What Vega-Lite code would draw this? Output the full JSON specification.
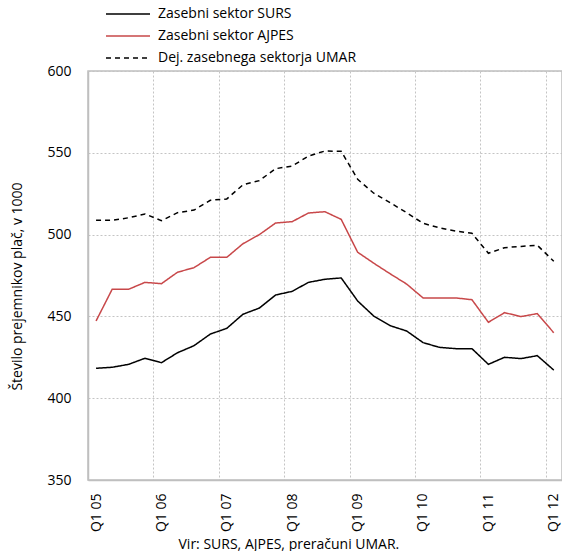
{
  "$schema": "https://vega.github.io/schema/vega-lite/v6.json",
  "width": 474,
  "height": 409,
  "autosize": {"type": "none"},
  "padding": {"left": 88, "top": 71, "right": 0, "bottom": 71},
  "background": "white",
  "config": {
    "font": "Open Sans",
    "view": {"stroke": "#bfbfbf", "strokeWidth": 1.5},
    "axis": {"labelFont": "Open Sans", "titleFont": "Open Sans", "labelColor": "black", "titleColor": "black", "titleFontWeight": "normal"}
  },
  "data": {
    "values": [
      {"date": "2005-02-15", "series": "Zasebni sektor SURS", "value": 418.3},
      {"date": "2005-05-16", "series": "Zasebni sektor SURS", "value": 418.9},
      {"date": "2005-08-16", "series": "Zasebni sektor SURS", "value": 420.7},
      {"date": "2005-11-15", "series": "Zasebni sektor SURS", "value": 424.4},
      {"date": "2006-02-15", "series": "Zasebni sektor SURS", "value": 421.7},
      {"date": "2006-05-16", "series": "Zasebni sektor SURS", "value": 427.8},
      {"date": "2006-08-16", "series": "Zasebni sektor SURS", "value": 432.1},
      {"date": "2006-11-15", "series": "Zasebni sektor SURS", "value": 439.2},
      {"date": "2007-02-15", "series": "Zasebni sektor SURS", "value": 442.7},
      {"date": "2007-05-16", "series": "Zasebni sektor SURS", "value": 451.3},
      {"date": "2007-08-16", "series": "Zasebni sektor SURS", "value": 455.1},
      {"date": "2007-11-15", "series": "Zasebni sektor SURS", "value": 463.1},
      {"date": "2008-02-15", "series": "Zasebni sektor SURS", "value": 465.3},
      {"date": "2008-05-16", "series": "Zasebni sektor SURS", "value": 470.8},
      {"date": "2008-08-16", "series": "Zasebni sektor SURS", "value": 472.7},
      {"date": "2008-11-15", "series": "Zasebni sektor SURS", "value": 473.5},
      {"date": "2009-02-15", "series": "Zasebni sektor SURS", "value": 459.4},
      {"date": "2009-05-16", "series": "Zasebni sektor SURS", "value": 450.2},
      {"date": "2009-08-16", "series": "Zasebni sektor SURS", "value": 444.3},
      {"date": "2009-11-15", "series": "Zasebni sektor SURS", "value": 441.1},
      {"date": "2010-02-15", "series": "Zasebni sektor SURS", "value": 434.0},
      {"date": "2010-05-16", "series": "Zasebni sektor SURS", "value": 431.1},
      {"date": "2010-08-16", "series": "Zasebni sektor SURS", "value": 430.3},
      {"date": "2010-11-15", "series": "Zasebni sektor SURS", "value": 430.3},
      {"date": "2011-02-15", "series": "Zasebni sektor SURS", "value": 420.7},
      {"date": "2011-05-16", "series": "Zasebni sektor SURS", "value": 425.0},
      {"date": "2011-08-16", "series": "Zasebni sektor SURS", "value": 424.2},
      {"date": "2011-11-15", "series": "Zasebni sektor SURS", "value": 426.0},
      {"date": "2012-02-15", "series": "Zasebni sektor SURS", "value": 417.2},
      {"date": "2005-02-15", "series": "Zasebni sektor AJPES", "value": 447.2},
      {"date": "2005-05-16", "series": "Zasebni sektor AJPES", "value": 466.6},
      {"date": "2005-08-16", "series": "Zasebni sektor AJPES", "value": 466.6},
      {"date": "2005-11-15", "series": "Zasebni sektor AJPES", "value": 470.8},
      {"date": "2006-02-15", "series": "Zasebni sektor AJPES", "value": 470.0},
      {"date": "2006-05-16", "series": "Zasebni sektor AJPES", "value": 477.0},
      {"date": "2006-08-16", "series": "Zasebni sektor AJPES", "value": 479.8},
      {"date": "2006-11-15", "series": "Zasebni sektor AJPES", "value": 486.1},
      {"date": "2007-02-15", "series": "Zasebni sektor AJPES", "value": 486.1},
      {"date": "2007-05-16", "series": "Zasebni sektor AJPES", "value": 494.4},
      {"date": "2007-08-16", "series": "Zasebni sektor AJPES", "value": 500.0},
      {"date": "2007-11-15", "series": "Zasebni sektor AJPES", "value": 507.1},
      {"date": "2008-02-15", "series": "Zasebni sektor AJPES", "value": 507.9},
      {"date": "2008-05-16", "series": "Zasebni sektor AJPES", "value": 513.2},
      {"date": "2008-08-16", "series": "Zasebni sektor AJPES", "value": 514.0},
      {"date": "2008-11-15", "series": "Zasebni sektor AJPES", "value": 509.3},
      {"date": "2009-02-15", "series": "Zasebni sektor AJPES", "value": 489.2},
      {"date": "2009-05-16", "series": "Zasebni sektor AJPES", "value": 482.5},
      {"date": "2009-08-16", "series": "Zasebni sektor AJPES", "value": 476.0},
      {"date": "2009-11-15", "series": "Zasebni sektor AJPES", "value": 469.8},
      {"date": "2010-02-15", "series": "Zasebni sektor AJPES", "value": 461.3},
      {"date": "2010-05-16", "series": "Zasebni sektor AJPES", "value": 461.3},
      {"date": "2010-08-16", "series": "Zasebni sektor AJPES", "value": 461.3},
      {"date": "2010-11-15", "series": "Zasebni sektor AJPES", "value": 460.2},
      {"date": "2011-02-15", "series": "Zasebni sektor AJPES", "value": 446.4},
      {"date": "2011-05-16", "series": "Zasebni sektor AJPES", "value": 452.3},
      {"date": "2011-08-16", "series": "Zasebni sektor AJPES", "value": 449.9},
      {"date": "2011-11-15", "series": "Zasebni sektor AJPES", "value": 451.7},
      {"date": "2012-02-15", "series": "Zasebni sektor AJPES", "value": 440.0},
      {"date": "2005-02-15", "series": "Dej. zasebnega sektorja UMAR", "value": 508.7},
      {"date": "2005-05-16", "series": "Dej. zasebnega sektorja UMAR", "value": 508.7},
      {"date": "2005-08-16", "series": "Dej. zasebnega sektorja UMAR", "value": 510.3},
      {"date": "2005-11-15", "series": "Dej. zasebnega sektorja UMAR", "value": 512.6},
      {"date": "2006-02-15", "series": "Dej. zasebnega sektorja UMAR", "value": 508.5},
      {"date": "2006-05-16", "series": "Dej. zasebnega sektorja UMAR", "value": 513.4},
      {"date": "2006-08-16", "series": "Dej. zasebnega sektorja UMAR", "value": 515.0},
      {"date": "2006-11-15", "series": "Dej. zasebnega sektorja UMAR", "value": 521.0},
      {"date": "2007-02-15", "series": "Dej. zasebnega sektorja UMAR", "value": 521.8},
      {"date": "2007-05-16", "series": "Dej. zasebnega sektorja UMAR", "value": 530.4},
      {"date": "2007-08-16", "series": "Dej. zasebnega sektorja UMAR", "value": 533.0},
      {"date": "2007-11-15", "series": "Dej. zasebnega sektorja UMAR", "value": 540.3},
      {"date": "2008-02-15", "series": "Dej. zasebnega sektorja UMAR", "value": 541.9},
      {"date": "2008-05-16", "series": "Dej. zasebnega sektorja UMAR", "value": 548.0},
      {"date": "2008-08-16", "series": "Dej. zasebnega sektorja UMAR", "value": 551.1},
      {"date": "2008-11-15", "series": "Dej. zasebnega sektorja UMAR", "value": 550.9},
      {"date": "2009-02-15", "series": "Dej. zasebnega sektorja UMAR", "value": 533.8},
      {"date": "2009-05-16", "series": "Dej. zasebnega sektorja UMAR", "value": 525.3},
      {"date": "2009-08-16", "series": "Dej. zasebnega sektorja UMAR", "value": 519.5},
      {"date": "2009-11-15", "series": "Dej. zasebnega sektorja UMAR", "value": 513.4},
      {"date": "2010-02-15", "series": "Dej. zasebnega sektorja UMAR", "value": 506.9},
      {"date": "2010-05-16", "series": "Dej. zasebnega sektorja UMAR", "value": 504.2},
      {"date": "2010-08-16", "series": "Dej. zasebnega sektorja UMAR", "value": 502.2},
      {"date": "2010-11-15", "series": "Dej. zasebnega sektorja UMAR", "value": 500.8},
      {"date": "2011-02-15", "series": "Dej. zasebnega sektorja UMAR", "value": 488.6},
      {"date": "2011-05-16", "series": "Dej. zasebnega sektorja UMAR", "value": 492.0},
      {"date": "2011-08-16", "series": "Dej. zasebnega sektorja UMAR", "value": 492.8},
      {"date": "2011-11-15", "series": "Dej. zasebnega sektorja UMAR", "value": 493.5},
      {"date": "2012-02-15", "series": "Dej. zasebnega sektorja UMAR", "value": 483.7}
    ]
  },
  "mark": {"type": "line", "strokeWidth": 1.5},
  "encoding": {
    "x": {
      "field": "date",
      "type": "temporal",
      "scale": {
        "type": "utc",
        "domain": [
          {"year": 2005, "month": 1, "date": 1, "utc": true},
          {"year": 2012, "month": 4, "date": 1, "utc": true}
        ]
      },
      "axis": {
        "values": [
          {"year": 2005, "month": 1, "date": 1, "utc": true},
          {"year": 2006, "month": 1, "date": 1, "utc": true},
          {"year": 2007, "month": 1, "date": 1, "utc": true},
          {"year": 2008, "month": 1, "date": 1, "utc": true},
          {"year": 2009, "month": 1, "date": 1, "utc": true},
          {"year": 2010, "month": 1, "date": 1, "utc": true},
          {"year": 2011, "month": 1, "date": 1, "utc": true},
          {"year": 2012, "month": 1, "date": 1, "utc": true}
        ],
        "labelExpr": "'Q1 ' + utcFormat(datum.value, '%y')",
        "labelAngle": 270,
        "labelAlign": "right",
        "labelBaseline": "middle",
        "labelPadding": 13,
        "labelOffset": 8,
        "labelFontSize": 14,
        "labelFlush": false,
        "labelOverlap": false,
        "ticks": false,
        "domainColor": "#bfbfbf",
        "domainWidth": 1.5,
        "grid": true,
        "gridColor": "#c4c4c4",
        "gridDash": [2, 2],
        "gridWidth": 1,
        "title": "Vir: SURS, AJPES, preračuni UMAR.",
        "titleFontSize": 14,
        "titleAnchor": "start",
        "titleAlign": "left",
        "titleX": 90,
        "titleY": 68,
        "titleBaseline": "alphabetic"
      }
    },
    "y": {
      "field": "value",
      "type": "quantitative",
      "scale": {"domain": [350, 600], "nice": false, "zero": false},
      "axis": {
        "values": [350, 400, 450, 500, 550, 600],
        "labelFontSize": 14,
        "labelPadding": 17,
        "ticks": false,
        "domainColor": "#bfbfbf",
        "domainWidth": 1.5,
        "grid": true,
        "gridColor": "#c4c4c4",
        "gridDash": [2, 2],
        "gridWidth": 1,
        "title": "Število prejemnikov plač, v 1000",
        "titleFontSize": 14,
        "titleAngle": 270,
        "titleX": -71,
        "titleY": 215,
        "titleAlign": "center",
        "titleBaseline": "middle"
      }
    },
    "color": {
      "field": "series",
      "type": "nominal",
      "scale": {
        "domain": ["Zasebni sektor SURS", "Zasebni sektor AJPES", "Dej. zasebnega sektorja UMAR"],
        "range": ["#000000", "#c8484a", "#000000"]
      },
      "legend": {
        "title": null,
        "orient": "none",
        "legendX": 33,
        "legendY": -64,
        "symbolType": "M-4.4,0H4.4",
        "symbolSize": 100,
        "symbolStrokeWidth": 1.5,
        "labelFontSize": 14,
        "labelOffset": 23,
        "labelLimit": 400,
        "rowPadding": 8,
        "padding": 0
      }
    },
    "strokeDash": {
      "field": "series",
      "type": "nominal",
      "scale": {
        "domain": ["Zasebni sektor SURS", "Zasebni sektor AJPES", "Dej. zasebnega sektorja UMAR"],
        "range": [[1, 0], [1, 0], [5, 4]]
      },
      "legend": {
        "title": null,
        "orient": "none",
        "legendX": 33,
        "legendY": -64,
        "symbolType": "M-4.4,0H4.4",
        "symbolSize": 100,
        "symbolStrokeWidth": 1.5,
        "labelFontSize": 14,
        "labelOffset": 23,
        "labelLimit": 400,
        "rowPadding": 8,
        "padding": 0
      }
    }
  }
}
